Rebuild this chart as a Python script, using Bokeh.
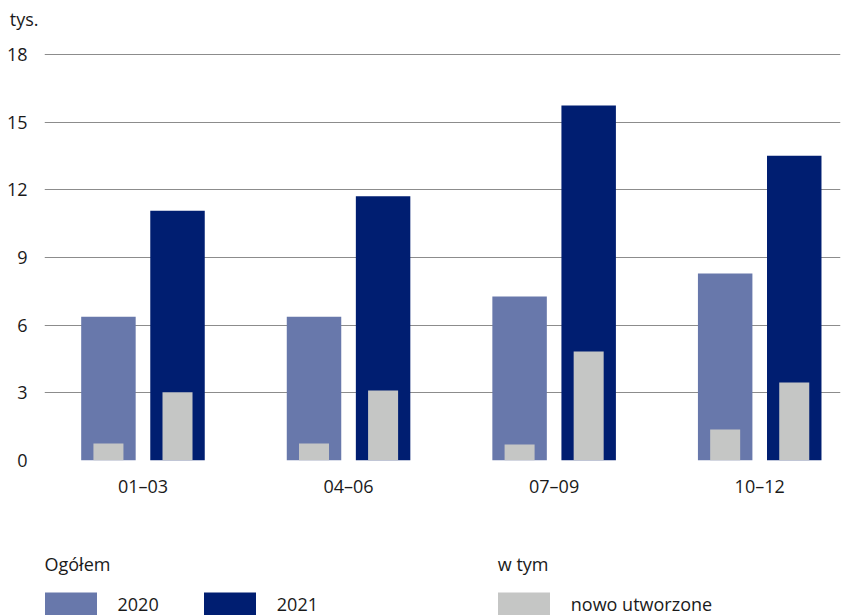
from bokeh.plotting import figure
from bokeh.models import ColumnDataSource, FixedTicker, Label, Legend, LegendItem, Range1d, Title
from bokeh.layouts import column
from bokeh.transform import dodge
from bokeh.embed import file_html
from bokeh.resources import INLINE

quarters = ["01–03", "04–06", "07–09", "10–12"]
total_2020 = [6.38, 6.38, 7.27, 8.29]
total_2021 = [11.08, 11.72, 15.74, 13.52]
new_2020 = [0.75, 0.75, 0.71, 1.37]
new_2021 = [3.03, 3.10, 4.83, 3.46]
y_ticks = [0, 3, 6, 9, 12, 15, 18]

FONT = "Open Sans"
FS = "18px"
TXT = "#1a1a1a"
C2020 = "#6878ab"
C2021 = "#001e71"
CNEW = "#c5c6c5"

src = ColumnDataSource(dict(
    x=list(range(len(quarters))),
    t2020=total_2020, t2021=total_2021,
    n2020=new_2020, n2021=new_2021,
))

p = figure(width=845, height=520, output_backend="svg", toolbar_location=None,
           x_range=(-0.479, 3.393), y_range=(0, 18.05),
           min_border_left=44, min_border_right=5, min_border_top=53, min_border_bottom=60)
p.outline_line_color = None
p.title.visible = False

# spacer title (nearest the frame) and the unit title above it
p.add_layout(Title(text=" ", text_font_size="1px", standoff=19.5), "above")
p.add_layout(Title(text="tys.", align="left", offset=-34.7, standoff=0,
                   text_font=FONT, text_font_size=FS, text_font_style="normal",
                   text_color=TXT), "above")

p.xgrid.visible = False
p.ygrid.ticker = FixedTicker(ticks=y_ticks)
p.ygrid.grid_line_color = "#8c8c8c"
p.ygrid.grid_line_width = 1

p.yaxis.ticker = FixedTicker(ticks=y_ticks)
p.yaxis.axis_line_color = None
p.yaxis.major_tick_line_color = None
p.yaxis.minor_tick_line_color = None
p.yaxis.major_label_standoff = 11
p.yaxis.major_label_text_font = FONT
p.yaxis.major_label_text_font_size = FS
p.yaxis.major_label_text_color = TXT

p.xaxis.ticker = FixedTicker(ticks=list(range(len(quarters))))
p.xaxis.major_label_overrides = {i: q for i, q in enumerate(quarters)}
p.xaxis.axis_line_color = None
p.xaxis.major_tick_line_color = None
p.xaxis.minor_tick_line_color = None
p.xaxis.major_label_standoff = 7
p.xaxis.major_label_text_font = FONT
p.xaxis.major_label_text_font_size = FS
p.xaxis.major_label_text_color = TXT

off = 0.168
p.vbar(x=dodge("x", -off), top="t2020", width=0.265, source=src,
       fill_color=C2020, line_color=None)
p.vbar(x=dodge("x", off), top="t2021", width=0.265, source=src,
       fill_color=C2021, line_color=None)
p.vbar(x=dodge("x", -off), top="n2020", width=0.146, source=src,
       fill_color=CNEW, line_color=None)
p.vbar(x=dodge("x", off), top="n2021", width=0.146, source=src,
       fill_color=CNEW, line_color=None)

# legend area (frame is aligned with the chart frame: page x 44..840)
lf = figure(width=845, height=95, output_backend="svg", toolbar_location=None,
            x_range=Range1d(44, 840), y_range=Range1d(0, 95),
            x_axis_location=None, y_axis_location=None,
            min_border_left=44, min_border_right=5,
            min_border_top=0, min_border_bottom=0)
lf.outline_line_color = None
lf.xgrid.visible = False
lf.ygrid.visible = False
lf.title.visible = False

# hidden renderers that only supply the legend swatches
d20 = lf.vbar(x="x", top="t2020", width=0.5, source=src, fill_color=C2020, line_color=None, visible=False)
d21 = lf.vbar(x="x", top="t2021", width=0.5, source=src, fill_color=C2021, line_color=None, visible=False)
dnew = lf.vbar(x="x", top="n2020", width=0.5, source=src, fill_color=CNEW, line_color=None, visible=False)

for txt, xx in (("Ogółem", 44), ("w tym", 497.3)):
    lf.add_layout(Label(x=xx, y=52, text=txt, text_font=FONT, text_font_size=FS,
                        text_color=TXT, text_baseline="alphabetic"))


def make_legend(label, rend, x):
    lg = Legend(items=[LegendItem(label=label, renderers=[rend])],
                location=(x, -4), orientation="horizontal",
                glyph_width=65, glyph_height=30, label_standoff=15,
                padding=0, margin=0, spacing=0,
                border_line_color=None, background_fill_alpha=0,
                inactive_fill_alpha=0,
                label_text_font=FONT, label_text_font_size=FS,
                label_text_color=TXT)
    lf.add_layout(lg)


make_legend("2020", d20, -6.5)
make_legend("2021", d21, 152.8)
make_legend("nowo utworzone", dnew, 446.8)

layout = column(p, lf, spacing=0)
open("out.html", "w").write(file_html(layout, INLINE))
